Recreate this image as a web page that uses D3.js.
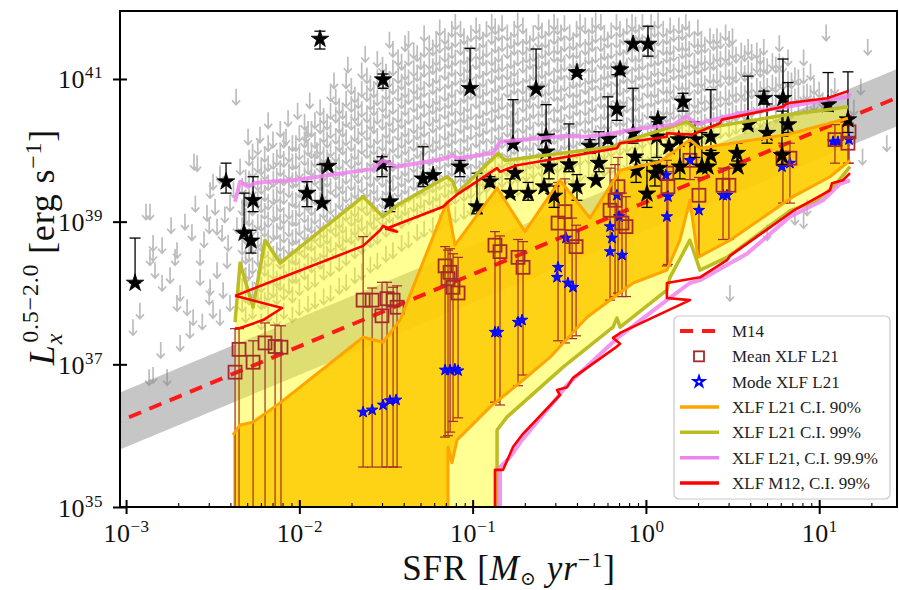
<!DOCTYPE html>
<html><head><meta charset="utf-8">
<script src="https://cdn.jsdelivr.net/npm/d3@7"></script>
<style>
body{margin:0;background:#fff}
svg{display:block;font-family:"Liberation Serif","DejaVu Serif",serif}
</style>
</head><body>
<svg id="chart" width="899" height="590"></svg>
<script>
// All values are log10: SFR in Msun/yr, Lx(0.5-2 keV) in erg/s.

// Upper limits of individual galaxies (sparse outskirts)
const limitPoints = [
 [-2.885,39.14],[-2.862,39.14],[-2.844,38.56],[-2.792,38.67],[-2.706,38.60],[-2.608,39.84],[-2.498,39.56],
 [-2.458,39.65],[-2.365,40.75],[-2.296,40.19],[-2.227,40.22],[-2.152,40.15],[-2.077,40.19],[-2.065,40.45],
 [-1.961,40.22],[-1.898,40.00],[-2.867,36.82],[-2.844,36.85],[-2.763,36.82],[-2.960,37.52],[-2.862,38.50],
 [-2.833,38.32],[-2.792,38.14],[-2.746,38.25],[-2.717,38.50],[-2.688,38.00],[-2.648,37.80],[-2.688,37.30],
 [-2.631,37.48],[-2.613,37.66],[-2.573,38.22],[-2.573,38.50],[-2.515,38.08],[-2.498,37.76],[-2.475,38.32],
 [-2.458,37.66],[-2.440,38.04],[-2.417,38.46],[-2.400,37.86],[-2.706,37.86],[-2.515,39.44],[-2.486,39.21],
 [-2.533,39.12],[-2.475,38.93],[-2.446,38.84],[-2.411,38.70],[-2.844,38.70],[-2.590,39.82],[-2.458,39.68],
 [-2.400,39.26],[-2.342,39.77],[-2.660,39.00],[-2.620,38.85],[-2.550,38.75],[-2.520,38.95],[-2.600,39.25],
 [-2.430,39.10],[-2.380,39.45],[-2.360,38.95],[-2.740,38.95],[-2.800,37.20],[-2.920,37.75],[-2.560,37.60],
 [-2.520,37.95],[0.485,38.00],[0.860,39.07],[0.910,39.02],[1.280,41.45],[1.250,39.91],[1.390,40.10],
 [1.240,40.89],[1.150,40.35],[1.200,40.60],[1.040,41.65],[0.700,38.85],[0.930,39.20],
 [-2.180,40.42],[-2.010,40.55],[-1.940,40.70],[-1.800,40.98],[-1.720,41.20],[-1.620,41.35],[-1.480,41.55]
];

// Upper limits in the crowded middle, grouped by SFR
const limitColumns = [
 [-2.33,[37.85,38.10,38.40,38.65,38.95,39.20,39.50]],
 [-2.31,[37.70,37.98,38.25,38.52,38.80,39.08,39.33,39.62]],
 [-2.29,[37.95,38.30,38.55,38.80,39.05,39.35,39.60,39.90]],
 [-2.27,[37.75,38.05,38.38,38.66,38.92,39.20,39.47,39.73,39.98]],
 [-2.24,[38.00,38.20,38.50,38.75,39.00,39.30,39.55,39.80,40.05]],
 [-2.22,[37.60,37.88,38.12,38.44,38.70,38.98,39.24,39.50,39.77]],
 [-2.20,[37.90,38.35,38.60,38.90,39.15,39.40,39.70,39.95]],
 [-2.18,[37.70,38.00,38.22,38.48,38.78,39.03,39.28,39.55,39.82,40.10]],
 [-2.15,[38.05,38.30,38.55,38.85,39.10,39.35,39.60,39.85]],
 [-2.13,[37.65,37.95,38.20,38.60,38.87,39.13,39.38,39.64,39.90]],
 [-2.11,[38.15,38.45,38.70,39.00,39.25,39.50,39.75,40.00,40.30]],
 [-2.09,[37.75,38.02,38.30,38.55,38.82,39.08,39.36,39.62,39.88,40.15]],
 [-2.06,[38.10,38.35,38.65,38.90,39.15,39.45,39.70,39.95]],
 [-2.04,[37.70,37.98,38.25,38.52,38.78,39.05,39.32,39.58,39.84,40.10]],
 [-2.02,[38.25,38.50,38.80,39.05,39.30,39.60,39.85,40.10]],
 [-2.00,[37.80,38.08,38.38,38.65,38.92,39.18,39.45,39.72,39.98,40.24]],
 [-1.97,[38.30,38.60,38.85,39.10,39.40,39.65,39.90,40.15,40.40]],
 [-1.95,[37.85,38.15,38.45,38.72,38.98,39.26,39.52,39.78,40.04,40.30]],
 [-1.93,[38.40,38.70,38.95,39.20,39.50,39.75,40.00,40.30]],
 [-1.91,[37.90,38.20,38.55,38.82,39.08,39.35,39.62,39.88,40.14,40.42]],
 [-1.88,[38.45,38.75,39.00,39.30,39.55,39.80,40.05,40.35,40.60]],
 [-1.86,[37.95,38.30,38.60,38.88,39.16,39.42,39.68,39.94,40.22,40.48]],
 [-1.84,[38.55,38.80,39.10,39.35,39.60,39.90,40.15,40.40]],
 [-1.82,[38.00,38.35,38.68,38.96,39.22,39.50,39.76,40.02,40.28,40.55,40.80]],
 [-1.79,[38.60,38.90,39.15,39.45,39.70,39.95,40.20,40.50,40.75]],
 [-1.77,[38.10,38.42,38.75,39.02,39.30,39.56,39.84,40.10,40.36,40.62]],
 [-1.75,[38.70,38.95,39.25,39.50,39.75,40.05,40.30,40.55]],
 [-1.73,[38.15,38.50,38.82,39.12,39.38,39.64,39.92,40.18,40.44,40.72,40.98]],
 [-1.70,[38.80,39.05,39.30,39.55,39.85,40.10,40.40,40.65,40.90]],
 [-1.68,[38.25,38.60,38.92,39.18,39.44,39.72,39.98,40.24,40.52,40.78]],
 [-1.66,[38.85,39.10,39.40,39.65,39.90,40.20,40.45,40.70]],
 [-1.64,[38.30,38.66,38.98,39.26,39.52,39.80,40.06,40.32,40.58,40.86,41.12]],
 [-1.61,[38.90,39.20,39.45,39.70,40.00,40.25,40.50,40.80,41.05]],
 [-1.59,[38.40,38.75,39.06,39.34,39.60,39.88,40.14,40.40,40.68,40.94]],
 [-1.57,[39.00,39.25,39.50,39.80,40.05,40.35,40.60,40.85]],
 [-1.55,[38.45,38.80,39.12,39.40,39.68,39.94,40.20,40.48,40.74,41.02,41.28]],
 [-1.52,[39.05,39.30,39.60,39.85,40.10,40.40,40.65,40.95,41.20]],
 [-1.50,[38.55,38.90,39.20,39.48,39.74,40.02,40.28,40.56,40.82,41.10]],
 [-1.48,[39.10,39.40,39.65,39.90,40.20,40.45,40.75,41.00]],
 [-1.46,[38.60,38.95,39.28,39.54,39.82,40.08,40.36,40.62,40.90,41.16,41.42]],
 [-1.43,[39.15,39.45,39.70,40.00,40.25,40.50,40.80,41.05,41.30]],
 [-1.41,[38.70,39.02,39.32,39.60,39.88,40.14,40.42,40.70,40.96,41.24]],
 [-1.39,[39.20,39.50,39.75,40.05,40.30,40.60,40.85,41.10,41.50]],
 [-1.37,[38.75,39.08,39.38,39.66,39.94,40.20,40.48,40.76,41.02,41.30,41.56]],
 [-1.34,[39.25,39.55,39.80,40.10,40.35,40.65,40.90,41.15,41.40]],
 [-1.32,[38.85,39.15,39.44,39.72,40.00,40.26,40.54,40.82,41.08,41.36]],
 [-1.30,[39.30,39.60,39.85,40.15,40.40,40.70,40.95,41.25]],
 [-1.28,[38.90,39.20,39.48,39.76,40.04,40.30,40.58,40.86,41.14,41.42,41.64]],
 [-1.25,[39.35,39.60,39.90,40.15,40.45,40.70,41.00,41.25,41.50]],
 [-1.23,[38.95,39.24,39.52,39.80,40.08,40.36,40.62,40.90,41.18,41.44]],
 [-1.21,[39.40,39.65,39.95,40.20,40.50,40.75,41.05,41.30,41.55]],
 [-1.19,[39.00,39.28,39.56,39.84,40.12,40.40,40.66,40.94,41.22,41.48,41.72]],
 [-1.16,[39.45,39.70,40.00,40.25,40.55,40.80,41.10,41.35,41.60]],
 [-1.14,[39.05,39.32,39.60,39.88,40.16,40.44,40.70,40.98,41.26,41.52]],
 [-1.12,[39.50,39.75,40.05,40.30,40.60,40.85,41.15,41.40,41.70]],
 [-1.10,[39.10,39.36,39.64,39.92,40.20,40.48,40.74,41.02,41.30,41.56,41.80]],
 [-1.07,[39.50,39.80,40.05,40.35,40.60,40.90,41.15,41.45,41.70]],
 [-1.05,[39.15,39.40,39.66,39.94,40.22,40.50,40.78,41.06,41.32,41.60]],
 [-1.03,[39.55,39.85,40.10,40.40,40.65,40.95,41.20,41.50]],
 [-1.01,[39.20,39.44,39.70,39.98,40.26,40.54,40.82,41.08,41.36,41.64]],
 [-0.98,[39.60,39.85,40.15,40.40,40.70,40.95,41.25,41.50,41.75]],
 [-0.96,[39.25,39.48,39.74,40.02,40.30,40.56,40.84,41.12,41.38,41.66]],
 [-0.94,[39.60,39.90,40.20,40.45,40.75,41.00,41.30,41.55]],
 [-0.92,[39.30,39.52,39.78,40.06,40.34,40.60,40.88,41.16,41.42,41.70]],
 [-0.89,[39.65,39.95,40.20,40.50,40.75,41.05,41.30,41.60,41.80]],
 [-0.87,[39.35,39.56,39.82,40.10,40.38,40.64,40.92,41.20,41.48,41.74]],
 [-0.85,[39.70,40.00,40.25,40.55,40.80,41.10,41.35,41.65]],
 [-0.83,[39.40,39.60,39.86,40.14,40.40,40.68,40.96,41.22,41.50,41.78]],
 [-0.80,[39.75,40.00,40.30,40.55,40.85,41.10,41.40,41.65]],
 [-0.78,[39.45,39.62,39.90,40.18,40.44,40.72,41.00,41.26,41.54]],
 [-0.76,[39.75,40.05,40.35,40.60,40.90,41.15,41.45,41.70]],
 [-0.74,[39.48,39.66,39.94,40.20,40.48,40.76,41.02,41.30,41.58,41.82]],
 [-0.71,[39.80,40.10,40.35,40.65,40.90,41.20,41.45,41.75]],
 [-0.69,[39.50,39.68,39.96,40.24,40.52,40.78,41.06,41.34,41.60]],
 [-0.67,[39.85,40.10,40.40,40.70,40.95,41.25,41.50]],
 [-0.65,[39.52,39.72,40.00,40.28,40.56,40.82,41.10,41.36,41.64]],
 [-0.62,[39.85,40.15,40.45,40.70,41.00,41.25,41.55,41.80]],
 [-0.60,[39.55,39.74,40.02,40.30,40.58,40.86,41.12,41.40,41.68]],
 [-0.58,[39.90,40.20,40.45,40.75,41.00,41.30,41.55]],
 [-0.56,[39.58,39.78,40.06,40.34,40.62,40.88,41.16,41.44,41.72]],
 [-0.53,[39.90,40.20,40.50,40.80,41.05,41.35,41.60,41.80]],
 [-0.51,[39.60,39.80,40.08,40.36,40.64,40.92,41.20,41.46,41.74]],
 [-0.49,[39.95,40.25,40.50,40.80,41.10,41.35,41.65]],
 [-0.47,[39.62,39.84,40.12,40.40,40.68,40.94,41.22,41.50,41.78]],
 [-0.44,[40.00,40.30,40.55,40.85,41.10,41.40,41.65]],
 [-0.42,[39.65,39.86,40.14,40.42,40.70,40.98,41.26,41.52]],
 [-0.40,[40.00,40.30,40.60,40.85,41.15,41.40,41.70]],
 [-0.38,[39.68,39.90,40.18,40.46,40.74,41.00,41.28,41.56,41.80]],
 [-0.35,[40.05,40.35,40.60,40.90,41.20,41.45,41.75]],
 [-0.33,[39.70,39.92,40.20,40.48,40.76,41.04,41.32,41.58]],
 [-0.31,[40.05,40.35,40.65,40.95,41.20,41.50,41.75]],
 [-0.29,[39.72,39.96,40.24,40.52,40.80,41.06,41.34,41.62,41.82]],
 [-0.26,[40.10,40.40,40.70,40.95,41.25,41.50,41.80]],
 [-0.24,[39.75,39.98,40.26,40.54,40.82,41.10,41.38,41.64]],
 [-0.22,[40.10,40.40,40.70,41.00,41.25,41.55]],
 [-0.20,[39.78,40.02,40.30,40.58,40.86,41.12,41.40,41.68]],
 [-0.17,[40.15,40.45,40.75,41.00,41.30,41.55,41.80]],
 [-0.15,[39.80,40.04,40.32,40.60,40.88,41.16,41.44,41.70]],
 [-0.13,[40.20,40.45,40.75,41.05,41.30,41.60]],
 [-0.11,[39.84,40.08,40.36,40.64,40.92,41.18,41.46,41.74]],
 [-0.08,[40.20,40.50,40.80,41.05,41.35,41.60,41.80]],
 [-0.06,[39.88,40.10,40.38,40.66,40.94,41.22,41.50,41.76]],
 [-0.04,[40.25,40.50,40.80,41.10,41.35,41.65]],
 [-0.02,[39.92,40.14,40.42,40.70,40.98,41.24,41.52,41.80]],
 [0.01,[40.25,40.55,40.85,41.10,41.40,41.65]],
 [0.03,[39.96,40.18,40.44,40.72,41.00,41.28,41.56,41.80]],
 [0.05,[40.30,40.55,40.85,41.15,41.40,41.70]],
 [0.07,[40.00,40.20,40.48,40.76,41.04,41.30,41.58,41.82]],
 [0.10,[40.30,40.60,40.90,41.15,41.45,41.70]],
 [0.12,[40.04,40.24,40.50,40.78,41.06,41.34,41.60]],
 [0.14,[40.35,40.60,40.90,41.20,41.45,41.75]],
 [0.16,[40.08,40.26,40.54,40.82,41.10,41.36,41.64]],
 [0.19,[40.40,40.65,40.95,41.20,41.50,41.75]],
 [0.21,[40.12,40.30,40.56,40.84,41.12,41.40,41.66]],
 [0.23,[40.45,40.70,40.95,41.25,41.50,41.80]],
 [0.25,[40.16,40.34,40.60,40.88,41.16,41.42,41.70]],
 [0.28,[40.45,40.70,41.00,41.25,41.55]],
 [0.30,[40.18,40.36,40.62,40.90,41.18,41.46,41.72]],
 [0.32,[40.45,40.75,41.00,41.30,41.55]],
 [0.34,[40.20,40.40,40.66,40.94,41.22,41.48]],
 [0.37,[40.50,40.75,41.05,41.30,41.60]],
 [0.39,[40.24,40.42,40.68,40.96,41.24,41.52]],
 [0.41,[40.50,40.80,41.05,41.35,41.60]],
 [0.43,[40.28,40.46,40.72,41.00,41.28,41.54]],
 [0.46,[40.55,40.80,41.10,41.35,41.65]],
 [0.48,[40.30,40.48,40.74,41.02,41.30,41.56]],
 [0.50,[40.55,40.85,41.10,41.40,41.60]],
 [0.52,[40.34,40.52,40.78,41.06,41.34]],
 [0.55,[40.60,40.85,41.15,41.40]],
 [0.57,[40.36,40.54,40.80,41.08,41.36]],
 [0.59,[40.60,40.90,41.15,41.45]],
 [0.61,[40.40,40.58,40.84,41.12,41.38]],
 [0.64,[40.65,40.90,41.20,41.40]],
 [0.66,[40.44,40.62,40.86,41.14,41.32]],
 [0.68,[40.65,40.95,41.20,41.45]],
 [0.70,[40.46,40.64,40.90,41.18]],
 [0.73,[40.70,40.95,41.25]],
 [0.75,[40.50,40.68,40.92,41.20]],
 [0.77,[40.70,41.00,41.25,41.50]],
 [0.79,[40.52,40.70,40.96,41.20]],
 [0.82,[40.75,41.00,41.30]],
 [0.84,[40.56,40.74,40.98]],
 [0.86,[40.75,41.05]],
 [0.88,[40.60,40.78,41.02]],
 [0.91,[40.80,41.05,41.30]],
 [0.93,[40.62,40.82]],
 [0.95,[40.80,41.10]],
 [0.97,[40.66,40.90]],
 [1.00,[40.85]],
 [1.02,[40.70]],
 [1.07,[40.75]],
 [1.09,[40.90]]
];

// Detections: [logSFR, logLx, lower bar end, upper bar end]
const detections = [
 [-2.948,38.14,38.14,38.77],[-2.423,39.56,39.40,39.82],[-2.267,39.30,39.14,39.63],[-2.319,38.84,38.84,39.40],
 [-2.279,38.73,38.56,38.88],[-1.956,39.40,39.21,39.56],[-1.869,39.26,39.26,39.80],[-1.834,39.78,null,null],
 [-1.881,41.56,41.42,41.67],[-1.523,39.81,39.63,39.91],[-1.517,40.99,40.87,41.07],[-1.477,39.28,39.14,39.77],
 [-1.286,39.60,39.49,40.05],[-1.228,39.65,null,null],[-1.073,39.77,39.63,39.86],[-1.015,40.87,40.87,41.43],
 [-0.975,39.21,39.11,39.68],[-0.900,39.56,39.49,39.63],[-0.767,40.09,40.09,40.71],[-0.755,39.68,null,null],
 [-0.784,39.40,39.35,39.60],[-0.680,39.40,39.30,39.55],[-0.634,40.86,40.86,41.42],[-0.576,40.19,40.00,40.64],
 [-0.576,39.98,null,null],[-0.559,39.77,39.60,39.95],[-0.588,39.49,null,null],[-0.530,39.36,39.20,39.50],
 [-0.444,39.80,39.70,40.37],[-0.398,39.49,39.30,39.66],[-0.398,41.09,41.05,41.13],[-0.323,40.06,39.96,40.15],
 [-0.271,39.82,39.70,40.26],[-0.288,39.58,null,null],[-0.219,40.16,40.10,40.75],[-0.167,40.58,40.42,41.06],
 [-0.149,41.13,41.08,41.18],[-0.074,41.49,null,null],[0.012,41.49,41.32,41.74],[-0.074,40.24,40.10,40.87],
 [-0.063,39.91,null,null],[-0.057,39.72,39.55,39.90],[0.006,39.39,39.20,39.86],[0.069,40.43,null,null],
 [0.063,40.19,39.90,40.40],[0.075,39.75,null,null],[0.052,39.68,39.50,39.85],[0.214,40.68,40.55,40.80],
 [0.190,40.15,null,null],[0.196,39.77,39.60,40.20],[0.133,40.05,null,null],[0.283,40.15,39.90,40.40],
 [0.323,39.77,39.70,40.25],[0.358,39.77,null,null],[0.375,40.19,40.00,40.85],[0.375,39.93,null,null],
 [0.525,39.96,39.85,40.10],[0.531,39.77,null,null],[0.589,40.36,40.30,41.04],[0.681,40.73,40.65,40.83],
 [0.699,40.24,40.10,40.65],[0.791,40.73,40.20,41.28],[0.820,40.36,40.25,40.95],[0.785,39.93,39.80,40.55],
 [1.051,40.64,40.55,41.09],[1.166,40.43,40.25,41.10]
];

// Mean of the L21 XLF simulations: [logSFR, mean, lower bar end, upper bar end]
const meanXLF = [
 [-2.371,36.89,34.9,37.50],[-2.348,37.21,34.9,37.50],[-2.267,37.03,34.9,37.33],[-2.198,37.30,34.9,37.58],
 [-2.140,37.25,34.9,37.55],[-2.106,37.24,34.9,37.54],
 [-1.632,37.90,35.56,38.79],[-1.580,37.90,35.56,38.07],[-1.523,37.68,35.56,38.15],[-1.494,37.92,35.56,38.15],
 [-1.459,37.90,35.56,38.08],[-1.436,37.80,35.56,38.10],
 [-1.159,38.38,35.98,38.65],[-1.142,38.20,36.00,38.60],[-1.130,38.29,36.05,38.62],[-1.113,38.08,36.20,38.55],
 [-1.084,38.00,36.25,38.50],
 [-0.871,38.67,36.47,38.86],[-0.842,38.58,36.43,38.80],[-0.738,38.50,36.70,38.75],[-0.709,38.36,36.85,38.72],
 [-0.507,38.98,37.33,39.55],[-0.467,39.14,37.30,39.60],[-0.426,38.79,37.36,39.05],[-0.403,38.65,37.40,38.95],
 [-0.207,39.16,37.90,39.75],[-0.178,39.30,37.95,39.80],[-0.161,39.49,38.00,39.90],[-0.138,38.98,37.95,39.40],
 [-0.115,38.93,37.95,39.35],
 [0.121,39.68,38.38,39.86],[0.127,39.49,38.40,39.70],
 [0.254,39.86,39.59,40.11],[0.306,39.37,38.53,39.62],[0.445,39.51,38.75,39.75],[0.479,39.51,38.75,39.75],
 [0.791,39.89,39.26,40.10],[0.831,39.89,39.26,40.10],[1.091,40.15,39.82,40.36],[1.172,40.26,39.82,40.38],
 [1.166,40.10,39.82,40.36]
];

// Mode of the L21 XLF simulations
const modeXLF = [
 [-1.632,36.33],[-1.580,36.36],[-1.517,36.43],[-1.477,36.49],[-1.442,36.50],
 [-1.159,36.92],[-1.130,36.92],[-1.102,36.93],[-1.084,36.91],
 [-0.871,37.45],[-0.853,37.45],[-0.738,37.59],[-0.715,37.62],
 [-0.507,38.36],[-0.513,38.22],[-0.461,38.77],[-0.450,38.14],[-0.421,38.08],
 [-0.207,38.93],[-0.196,38.77],[-0.167,39.37],[-0.155,39.07],[-0.207,38.58],[-0.138,38.53],
 [0.115,39.65],[0.127,39.35],[0.121,39.07],
 [0.254,39.86],[0.306,39.16],[0.468,39.37],[0.445,39.37],[0.785,39.77],[0.831,39.82],
 [1.080,40.12],[1.108,40.12],[1.172,40.15]
];

// M14 scaling relation (end points) and its scatter in dex
const m14Line = [[-3.10,36.14],[1.50,40.79]];
const m14Scatter = 0.40;

// Confidence envelopes
const ci90Upper = [[-2.383,36.01],[-2.342,36.15],[-2.267,36.19],[-2.186,36.33],[-2.111,36.46],[-1.632,37.38],
 [-1.517,37.31],[-1.419,37.62],[-1.148,39.28],[-1.102,38.67],[-0.859,39.47],[-0.698,38.86],[-0.496,39.58],
 [-0.323,39.05],[-0.149,39.72],[0.081,39.84],[0.254,40.15],[0.312,40.03],[0.814,40.22],[1.166,40.45]];
const ci90Lower = [[-1.142,34.9],[-1.142,35.84],[-1.119,35.62],[-1.090,35.94],[-0.900,36.40],[-0.709,36.78],
 [-0.553,37.10],[-0.340,37.66],[-0.074,38.14],[0.121,38.32],[0.196,38.74],[0.254,39.30],[0.300,38.50],
 [0.485,38.74],[0.849,39.35],[1.062,39.63],[1.178,39.86]];

const ci99Upper = [[-2.371,37.59],[-2.342,38.42],[-2.267,37.80],[-2.198,38.74],[-2.111,38.42],[-1.632,39.35],
 [-1.517,39.07],[-1.436,39.23],[-1.148,39.63],[-1.113,39.56],[-1.090,39.40],[-0.853,39.96],[-0.813,39.86],
 [-0.190,40.05],[-0.149,40.10],[0.237,40.40],[0.295,40.29],[0.814,40.50],[1.045,40.57],[1.166,40.61]];
const ci99Lower = [[-0.859,34.9],[-0.859,36.08],[-0.802,36.26],[-0.478,36.96],[-0.190,37.52],[-0.167,37.65],
 [-0.149,37.52],[0.121,38.04],[0.139,38.22],[0.254,38.74],[0.312,38.32],[0.468,38.50],[0.831,39.15],
 [0.987,39.30],[1.091,39.51],[1.178,39.77]];

const ci999Upper = [[-2.371,39.28],[-2.342,39.56],[-2.296,39.49],[-2.256,39.54],[-2.186,39.56],[-2.036,39.58],
 [-1.575,39.74],[-1.517,39.86],[-1.436,39.77],[-1.148,39.89],[-1.113,39.93],[-1.090,39.89],[-0.882,39.96],
 [-0.842,40.12],[-0.611,40.17],[-0.478,40.20],[-0.340,40.19],[-0.190,40.24],[-0.074,40.29],[0.156,40.36],
 [0.237,40.47],[0.295,40.37],[0.543,40.52],[0.814,40.61],[1.045,40.71],[1.166,40.75],[1.178,40.80]];
const ci999Lower = [[-0.842,34.9],[-0.842,35.56],[-0.784,35.70],[-0.715,35.94],[-0.513,36.53],[-0.455,36.71],
 [-0.190,37.31],[-0.149,37.40],[0.121,37.90],[0.254,38.14],[0.312,38.18],[0.583,38.55],[0.831,39.07],
 [1.022,39.30],[1.120,39.53],[1.178,39.58]];

const m12Upper = [[-2.371,37.96],[-1.632,38.66],[-1.534,38.88],[-1.517,38.94],[-1.436,38.86],[-1.500,38.90],
 [-1.171,39.21],[-1.130,39.30],[-1.084,39.39],[-0.859,39.75],[-0.842,39.70],[-0.744,39.79],[-0.455,39.91],
 [-0.167,40.03],[-0.149,40.10],[0.121,40.19],[0.121,40.24],[0.266,40.22],[0.427,40.38],[0.439,40.43],
 [0.791,40.61],[0.814,40.66],[1.045,40.73],[1.166,40.83]];
const m12LowerLeft = [[-2.371,37.96],[-2.100,37.79],[-2.209,37.62],[-2.342,37.51],[-2.371,37.50]];
const m12Lower = [[-0.871,34.9],[-0.871,35.52],[-0.825,35.52],[-0.767,35.84],[-0.715,36.01],[-0.496,36.57],
 [-0.513,36.64],[-0.455,36.68],[-0.421,36.81],[-0.178,37.23],[-0.149,37.29],[-0.190,37.37],[-0.149,37.44],
 [0.254,37.90],[0.121,37.93],[0.121,38.14],[0.312,38.22],[0.468,38.46],[0.485,38.52],[0.849,39.15],
 [1.062,39.44],[1.074,39.54],[1.137,39.58],[1.178,39.68]];

// Axis ticks
const xMajor = [1e-3, 1e-2, 1e-1, 1, 10];
const xMajorExp = ["\u22123", "\u22122", "\u22121", "0", "1"];
const yMajor = [1e35, 1e37, 1e39, 1e41];
const yMajorExp = ["35", "37", "39", "41"];

const legendItems = [
 {label: "M14", kind: "dash", color: "#ff1a1a"},
 {label: "Mean XLF L21", kind: "square", color: "#a52a2a"},
 {label: "Mode XLF L21", kind: "star", color: "#0000ff"},
 {label: "XLF L21 C.I. 90%", kind: "line", color: "#ffa500"},
 {label: "XLF L21 C.I. 99%", kind: "line", color: "#bcbd22"},
 {label: "XLF L21, C.I. 99.9%", kind: "line", color: "#ee82ee"},
 {label: "XLF M12, C.I. 99%", kind: "line", color: "#ff0000"}
];

// ---------- layout ----------
const L = 120, R = 897, T = 11, B = 507;
const svg = d3.select("#chart");
const x = d3.scaleLog().domain([Math.pow(10, -3.035), Math.pow(10, 1.449)]).range([L, R]);
const y = d3.scaleLog().domain([1e35, Math.pow(10, 41.953)]).range([B, T]);
const X = v => x(Math.pow(10, v));
const Y = v => y(Math.pow(10, v));

svg.append("clipPath").attr("id", "plotClip")
  .append("rect").attr("x", L).attr("y", T).attr("width", R - L).attr("height", B - T);
const plot = svg.append("g").attr("clip-path", "url(#plotClip)");

// upper-limit arrows
const limits = limitPoints.concat(limitColumns.flatMap(([s, ls]) => ls.map(l => [s, l])));
plot.append("g").selectAll("path").data(limits).join("path")
  .attr("d", d => {
    const px = X(d[0]), py = Y(d[1]);
    return `M${px},${py - 8}L${px},${py + 8}M${px - 4},${py + 3.5}L${px},${py + 8}L${px + 4},${py + 3.5}`;
  })
  .attr("fill", "none").attr("stroke", "#bdbdbd").attr("stroke-width", 1.7);

// M14 band
const band = d3.area().x(d => X(d[0])).y0(d => Y(d[1] - m14Scatter)).y1(d => Y(d[1] + m14Scatter));
plot.append("path").attr("d", band(m14Line)).attr("fill", "#808080").attr("opacity", 0.45);

// filled confidence regions
const poly = d3.line().x(d => X(d[0])).y(d => Y(d[1]));
function region(upper, lower) {
  const lo = lower.slice().reverse();
  const pts = upper.concat(lo);
  pts.push([upper[0][0], 34.9]);
  return poly(pts) + "Z";
}
plot.append("path").attr("d", region(ci99Upper, ci99Lower)).attr("fill", "#ffff00").attr("opacity", 0.42);
plot.append("path").attr("d", region(ci90Upper, ci90Lower)).attr("fill", "#ffcc00").attr("opacity", 0.86);

// M14 relation
plot.append("path").attr("d", poly(m14Line)).attr("fill", "none")
  .attr("stroke", "#ff1a1a").attr("stroke-width", 4).attr("stroke-dasharray", "13,9");

// mean XLF error bars and markers
const bars = plot.append("g").attr("stroke", "#a52a2a").attr("stroke-width", 1.2).attr("fill", "none");
meanXLF.forEach(d => {
  const px = X(d[0]);
  bars.append("line").attr("x1", px).attr("x2", px).attr("y1", Y(d[2])).attr("y2", Y(d[3]));
  [d[2], d[3]].forEach(v => bars.append("line").attr("x1", px - 5).attr("x2", px + 5).attr("y1", Y(v)).attr("y2", Y(v)));
});
const starSmall = d3.symbol().type(d3.symbolStar).size(40);
plot.append("g").selectAll("path").data(modeXLF).join("path")
  .attr("d", starSmall).attr("transform", d => `translate(${X(d[0])},${Y(d[1])})`)
  .attr("fill", "#1010ff").attr("stroke", "#0000ff").attr("stroke-width", 1);
plot.append("g").selectAll("rect").data(meanXLF).join("rect")
  .attr("x", d => X(d[0]) - 6.5).attr("y", d => Y(d[1]) - 6.5).attr("width", 13).attr("height", 13)
  .attr("fill", "none").attr("stroke", "#a52a2a").attr("stroke-width", 1.8);

// detections
const dbars = plot.append("g").attr("stroke", "#000").attr("stroke-width", 1.3);
detections.filter(d => d[2] !== null).forEach(d => {
  const px = X(d[0]);
  dbars.append("line").attr("x1", px).attr("x2", px).attr("y1", Y(d[2])).attr("y2", Y(d[3]));
  [d[2], d[3]].forEach(v => dbars.append("line").attr("x1", px - 5.5).attr("x2", px + 5.5).attr("y1", Y(v)).attr("y2", Y(v)));
});
const starBig = d3.symbol().type(d3.symbolStar).size(95);
plot.append("g").selectAll("path").data(detections).join("path")
  .attr("d", starBig).attr("transform", d => `translate(${X(d[0])},${Y(d[1])})`)
  .attr("fill", "#000").attr("stroke", "#000").attr("stroke-width", 0.8);

// envelope outlines
function outline(pts, color, w, op) {
  plot.append("path").attr("d", poly(pts)).attr("fill", "none").attr("stroke", color)
    .attr("stroke-width", w).attr("stroke-linejoin", "round").attr("opacity", op);
}
outline(ci90Upper, "#ffa500", 3, 1); outline(ci90Lower, "#ffa500", 3, 1);
outline(ci99Upper, "#bcbd22", 3.5, 1); outline(ci99Lower, "#bcbd22", 3.5, 1);
outline(ci999Upper, "#ee82ee", 4, 0.85); outline(ci999Lower, "#ee82ee", 4, 0.85);
outline(m12Upper, "#ff0000", 2.6, 1); outline(m12LowerLeft, "#ff0000", 2.6, 1); outline(m12Lower, "#ff0000", 2.6, 1);

// ---------- axes ----------
function sup(sel, base, exp, size, supSize) {
  sel.text(null);
  sel.append("tspan").attr("font-size", size).text(base);
  sel.append("tspan").attr("font-size", supSize).attr("dy", -10).text(exp);
}
const xMinor = [];
for (let e = -3; e <= 1; e++) for (let m = 2; m <= 9; m++) { const v = m * Math.pow(10, e); if (v < x.domain()[1]) xMinor.push(v); }

const gxMinor = svg.append("g").attr("transform", `translate(0,${B})`)
  .call(d3.axisBottom(x).tickValues(xMinor).tickSize(-4).tickFormat(""));
const gxIn = svg.append("g").attr("transform", `translate(0,${B})`)
  .call(d3.axisBottom(x).tickValues(xMajor).tickSize(-7).tickFormat(""));
const gx = svg.append("g").attr("transform", `translate(0,${B})`)
  .call(d3.axisBottom(x).tickValues(xMajor).tickSize(7).tickPadding(4));
gx.selectAll(".tick text").each(function(d, i) {
  const t = d3.select(this).attr("dy", null).attr("y", 35).attr("fill", "#111").attr("font-family", null)
    .attr("letter-spacing", 0.5);
  sup(t, "10", xMajorExp[i], 26, 17);
});
const gyIn = svg.append("g").attr("transform", `translate(${L},0)`)
  .call(d3.axisLeft(y).tickValues(yMajor).tickSize(-7).tickFormat(""));
const gy = svg.append("g").attr("transform", `translate(${L},0)`)
  .call(d3.axisLeft(y).tickValues(yMajor).tickSize(7).tickPadding(10));
gy.selectAll(".tick text").each(function(d, i) {
  const t = d3.select(this).attr("dy", null).attr("y", 9).attr("fill", "#111").attr("font-family", null)
    .attr("letter-spacing", 0.5);
  sup(t, "10", yMajorExp[i], 26, 17);
});
[gxMinor, gxIn, gx, gyIn, gy].forEach(g => {
  g.select(".domain").remove();
  g.attr("font-size", null).attr("font-family", null);
});
gxMinor.selectAll("line").attr("stroke-width", 1.1);
[gxIn, gx, gyIn, gy].forEach(g => g.selectAll("line").attr("stroke-width", 2));

svg.append("rect").attr("x", L).attr("y", T).attr("width", R - L).attr("height", B - T)
  .attr("fill", "none").attr("stroke", "#000").attr("stroke-width", 2);

// axis titles
const xt = svg.append("text").attr("x", 509).attr("y", 580).attr("text-anchor", "middle")
  .attr("font-size", 35).attr("letter-spacing", 1).attr("fill", "#111");
xt.append("tspan").text("SFR [");
xt.append("tspan").attr("font-style", "italic").text("M");
xt.append("tspan").attr("font-size", 19).attr("dy", 5).text("\u2299");
xt.append("tspan").attr("dy", -5).text(" ");
xt.append("tspan").attr("font-style", "italic").text("yr");
xt.append("tspan").attr("font-size", 22).attr("dy", -13).text("\u22121");
xt.append("tspan").attr("dy", 13).text("]");

const yt = svg.append("text").attr("transform", "translate(54,247) rotate(-90)").attr("text-anchor", "middle")
  .attr("font-size", 36).attr("letter-spacing", 0.8).attr("fill", "#111");
yt.append("tspan").attr("font-style", "italic").text("L");
yt.append("tspan").attr("font-style", "italic").attr("font-size", 24).attr("dy", 8).text("x");
yt.append("tspan").attr("font-size", 24).attr("dx", -10).attr("dy", -24).text("0.5\u22122.0");
yt.append("tspan").attr("dy", 16).text(" [erg s");
yt.append("tspan").attr("font-size", 24).attr("dy", -13).text("\u22121");
yt.append("tspan").attr("dy", 13).text("]");

// ---------- legend ----------
const lg = svg.append("g");
lg.append("rect").attr("x", 674).attr("y", 316).attr("width", 216).attr("height", 183).attr("rx", 5)
  .attr("fill", "#fff").attr("fill-opacity", 0.85).attr("stroke", "#c8c8c8").attr("stroke-width", 1.2);
const rowY = d3.scalePoint().domain(legendItems.map(d => d.label)).range([331, 483]);
legendItems.forEach(it => {
  const cy = rowY(it.label);
  if (it.kind === "dash") {
    lg.append("line").attr("x1", 680).attr("x2", 719).attr("y1", cy).attr("y2", cy)
      .attr("stroke", it.color).attr("stroke-width", 4).attr("stroke-dasharray", "13,9");
  } else if (it.kind === "square") {
    lg.append("rect").attr("x", 694).attr("y", cy - 5).attr("width", 10).attr("height", 10)
      .attr("fill", "none").attr("stroke", it.color).attr("stroke-width", 1.8);
  } else if (it.kind === "star") {
    lg.append("path").attr("d", d3.symbol().type(d3.symbolStar).size(34)())
      .attr("transform", `translate(699,${cy})`).attr("fill", "#fff").attr("stroke", it.color).attr("stroke-width", 2);
  } else {
    lg.append("line").attr("x1", 680).attr("x2", 719).attr("y1", cy).attr("y2", cy)
      .attr("stroke", it.color).attr("stroke-width", 3.5);
  }
  lg.append("text").attr("x", 732).attr("y", cy + 6).attr("font-size", 17).attr("fill", "#222").text(it.label);
});
</script>
</body></html>
